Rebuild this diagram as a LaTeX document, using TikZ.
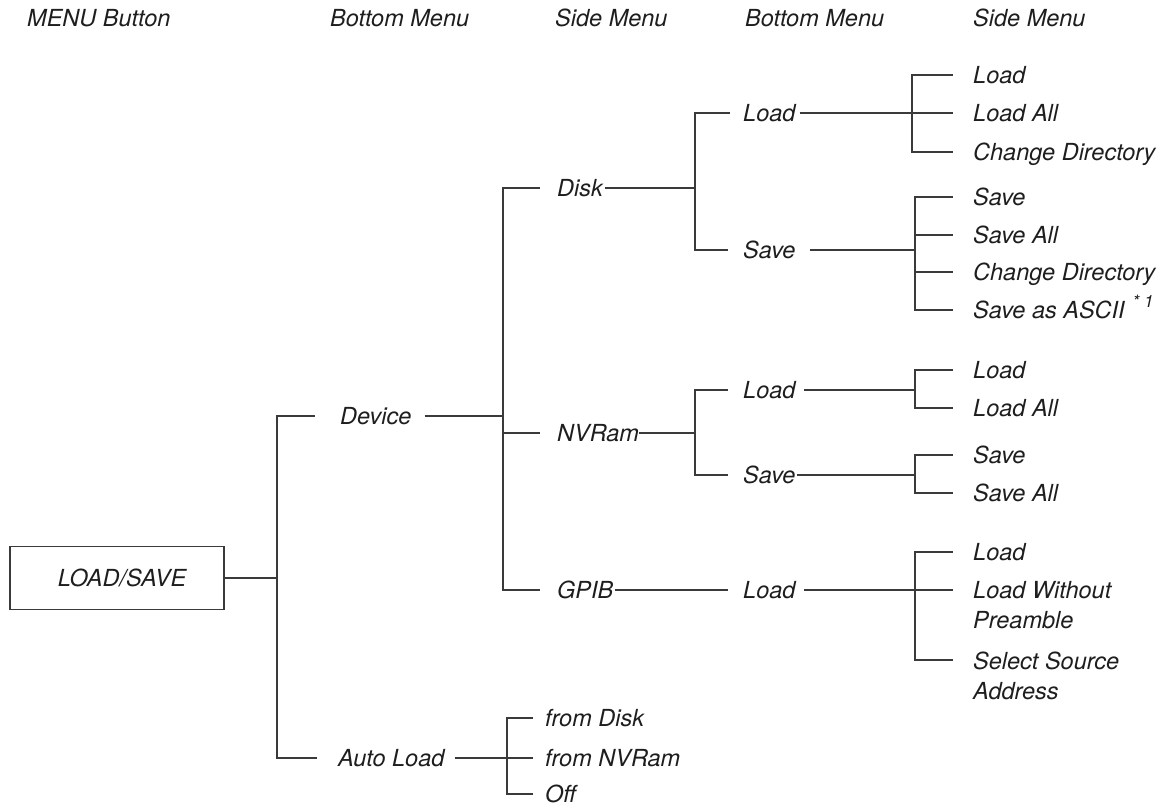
\documentclass[tikz,border=0pt]{standalone}
\usepackage{fontspec}
\setmainfont{TeX Gyre Heros}
\usepackage{tikz}
\usetikzlibrary{positioning}
\usepackage{xcolor}
\definecolor{ink}{HTML}{1E1E1E}
\definecolor{wire}{HTML}{3A3A3A}
\newcommand{\labfont}{\fontsize{23.5}{30}\selectfont\itshape}
\tikzset{
  lbl/.style={font=\labfont,text=ink,inner sep=0pt,anchor=west,text height=17pt,text depth=0pt},
  twoline/.style={font=\labfont,text=ink,inner sep=0pt,anchor=north west,align=left},
  menubox/.style={draw=wire,line width=1.2pt,minimum width=214pt,minimum height=63pt,font=\labfont,text=ink},
  conn/.style={draw=wire,line width=1.2pt}
}

\begin{document}
\begin{tikzpicture}[x=1pt,y=-1pt]
  \useasboundingbox (0,0) rectangle (1165,808);
  % column headers
  \foreach \i/\x/\t in {1/27/MENU Button,2/330/Bottom Menu,3/555/Side Menu,4/745/Bottom Menu,5/973/Side Menu}{
    \node[lbl] (head\i) at (\x,18) {\t};
  }
  % root and first level
  \node[menubox] (root) at (117,578) {\hspace*{10pt}LOAD/SAVE};
  \coordinate (bus1) at (277,578);
  \node[lbl] (device) at (340,416) {Device};
  \node[lbl] (autoload) at (338,758) {Auto Load};
  \draw[conn] (root.east) -- (bus1);
  \draw[conn] (bus1) |- ([xshift=-25pt]device.west);
  \draw[conn] (bus1) |- ([xshift=-21pt]autoload.west);
  % devices
  \coordinate (bus2) at (503,416);
  \node[lbl] (disk) at (557,188) {Disk};
  \node[lbl] (nvram) at (557,433) {NVRam};
  \node[lbl] (gpib) at (557,590) {GPIB};
  \draw[conn] ([xshift=13pt]device.east) -- (bus2);
  \foreach \n in {disk,nvram,gpib}
    \draw[conn] (bus2) |- ([xshift=-17pt]\n.west);
  % disk
  \coordinate (bus3) at (695,188);
  \node[lbl] (dload) at (743,113) {Load};
  \node[lbl] (dsave) at (743,250) {Save};
  \draw[conn] ([xshift=2pt]disk.east) -- (bus3);
  \draw[conn] (bus3) |- ([xshift=-13pt]dload.west);
  \draw[conn] (bus3) |- ([xshift=-15pt]dsave.west);
  \coordinate (bus4) at (912,113);
  \draw[conn] ([xshift=4pt]dload.east) -- (bus4);
  \foreach \i/\y/\t in {1/75/Load,2/113/Load All,3/152/Change Directory}{
    \node[lbl] (dl\i) at (973,\y) {\t};
    \draw[conn] (bus4) |- ([xshift=-20pt]dl\i.west);
  }
  \coordinate (bus5) at (915,250);
  \draw[conn] ([xshift=14pt]dsave.east) -- (bus5);
  \foreach \i/\y/\t in {1/197/Save,2/235/Save All,3/272/Change Directory,
                        4/310/{Save as ASCII\hspace{8pt}\raisebox{0.45em}{\fontsize{17}{17}\selectfont* 1}}}{
    \node[lbl] (ds\i) at (973,\y) {\t};
    \draw[conn] (bus5) |- ([xshift=-20pt]ds\i.west);
  }
  % nvram
  \coordinate (bus6) at (695,433);
  \node[lbl] (nload) at (743,390) {Load};
  \node[lbl] (nsave) at (743,475) {Save};
  \draw[conn] (nvram.east) -- (bus6);
  \draw[conn] (bus6) |- ([xshift=-15pt]nload.west);
  \draw[conn] (bus6) |- ([xshift=-15pt]nsave.west);
  \coordinate (bus7) at (915,390);
  \draw[conn] ([xshift=8pt]nload.east) -- (bus7);
  \foreach \i/\y/\t in {1/370/Load,2/408/Load All}{
    \node[lbl] (nl\i) at (973,\y) {\t};
    \draw[conn] (bus7) |- ([xshift=-20pt]nl\i.west);
  }
  \coordinate (bus8) at (915,475);
  \draw[conn] ([xshift=1pt]nsave.east) -- (bus8);
  \foreach \i/\y/\t in {1/455/Save,2/493/Save All}{
    \node[lbl] (ns\i) at (973,\y) {\t};
    \draw[conn] (bus8) |- ([xshift=-20pt]ns\i.west);
  }
  % gpib
  \node[lbl] (gload) at (743,590) {Load};
  \draw[conn] ([xshift=1pt]gpib.east) -- ([xshift=-15pt]gload.west);
  \coordinate (bus9) at (915,590);
  \draw[conn] ([xshift=8pt]gload.east) -- (bus9);
  \node[lbl] (gl1) at (973,552) {Load};
  \node[twoline] (gl2) at (973,581.5) {Load Without\\Preamble};
  \node[twoline] (gl3) at (973,651.5) {Select Source\\Address};
  \draw[conn] (bus9) |- ([xshift=-20pt]gl1.west);
  \draw[conn] (bus9) -- ([xshift=-20pt]gl2.north west |- bus9);
  \draw[conn] (bus9) |- ([xshift=-20pt,yshift=-8.5pt]gl3.north west);
  % auto load
  \coordinate (bus10) at (507,758);
  \draw[conn] ([xshift=10pt]autoload.east) -- (bus10);
  \foreach \i/\y/\t in {1/718/from Disk,2/758/from NVRam,3/794/Off}{
    \node[lbl] (al\i) at (545,\y) {\t};
    \draw[conn] (bus10) |- ([xshift=-12pt]al\i.west);
  }
\end{tikzpicture}
\end{document}
